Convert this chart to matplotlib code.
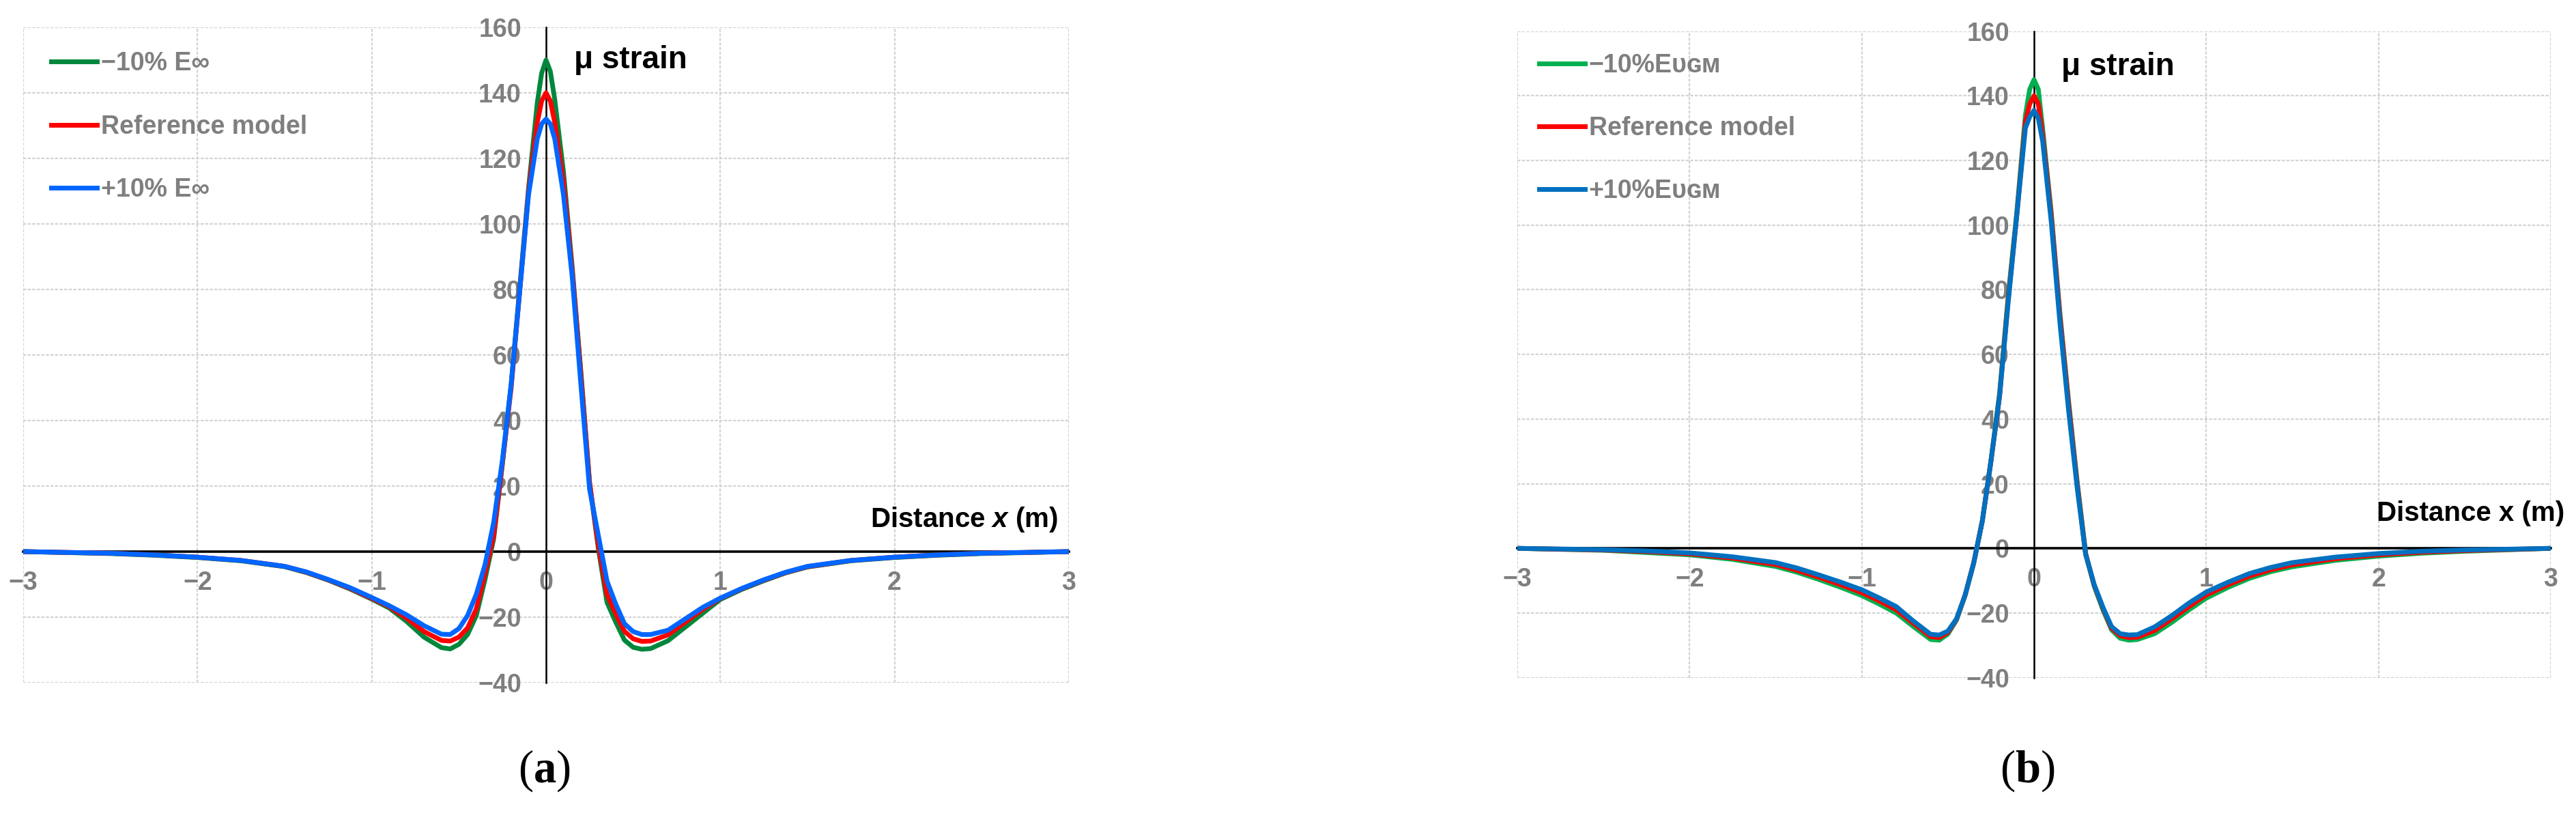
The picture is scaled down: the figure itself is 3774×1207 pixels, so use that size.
import matplotlib
matplotlib.use("Agg")
import matplotlib.pyplot as plt

plt.rcParams['font.family'] = ['Liberation Sans', 'DejaVu Sans']
plt.rcParams['mathtext.fontset'] = 'custom'
plt.rcParams['mathtext.it'] = 'Liberation Sans:italic:bold'
plt.rcParams['mathtext.rm'] = 'Liberation Sans:bold'
plt.rcParams['mathtext.bf'] = 'Liberation Serif:bold'

# distance along the pavement (m)
x = [-3, -2.5, -2.25, -2, -1.75, -1.5, -1.375, -1.25, -1.125, -1,
     -0.9, -0.8, -0.7, -0.6, -0.55, -0.5, -0.45, -0.4, -0.35, -0.3,
     -0.25, -0.2, -0.15, -0.1, -0.05, -0.025, 0, 0.025, 0.05, 0.1,
     0.15, 0.2, 0.25, 0.3, 0.35, 0.4, 0.45, 0.5, 0.55, 0.6,
     0.7, 0.8, 0.9, 1, 1.125, 1.25, 1.375, 1.5, 1.75, 2,
     2.25, 2.5, 3]

# (a) sensitivity to E-infinity, micro strain
a_minus = [0, -0.6, -1.1, -1.8, -2.8, -4.6, -6.4, -8.7, -11.4, -14.5,
           -17.2, -21.3, -26.1, -29.3, -29.7, -28.3, -25.3, -19.5, -8.5, 4,
           27, 51, 81, 111, 137, 146, 150, 146.5, 138, 116,
           87, 55, 21, 1, -15.5, -21.5, -27, -29.2, -29.8, -29.6,
           -27.2, -23, -18.8, -14.6, -11.5, -8.9, -6.5, -4.7, -2.8, -1.8,
           -1.1, -0.6, 0]
a_ref = [0, -0.5, -1.0, -1.7, -2.7, -4.5, -6.3, -8.6, -11.2, -14.3,
         -16.8, -20.3, -24.4, -27.1, -27.3, -26.1, -23.3, -17.5, -6.7, 5,
         27, 50, 80, 110, 131, 137.5, 140, 137.5, 131, 113,
         86, 54, 21, 2, -13, -19, -24.3, -26.6, -27.4, -27.3,
         -25.4, -21.5, -17.6, -14.3, -11.3, -8.7, -6.4, -4.6, -2.7, -1.7,
         -1.0, -0.5, 0]
a_plus = [0, -0.5, -1.0, -1.7, -2.7, -4.5, -6.2, -8.5, -11.0, -14.0,
          -16.5, -19.3, -22.6, -25.2, -25.3, -23.5, -19.5, -13, -4, 9,
          28, 51, 80, 109, 126, 130.5, 132, 130.5, 126, 109,
          84, 51, 19, 5, -9, -16, -22, -24.4, -25.3, -25.3,
          -24.0, -20.5, -17.0, -14.2, -11.2, -8.6, -6.3, -4.5, -2.7, -1.7,
          -1.0, -0.5, 0]

# (b) sensitivity to E_UGM, micro strain
b_minus = [0, -0.6, -1.3, -2.0, -3.4, -5.6, -7.4, -9.6, -12.0, -14.6,
           -17.2, -20, -24.2, -28.2, -28.4, -26.5, -22.2, -14.5, -4.5, 8.5,
           27, 48, 78, 104, 134, 142, 145, 142, 130, 104,
           73, 46, 21, -1.5, -11.8, -19, -25.2, -27.8, -28.4, -28.2,
           -26.4, -22.9, -19, -15.4, -12.1, -9.3, -7.2, -5.7, -3.7, -2.4,
           -1.5, -0.9, 0]
b_ref = [0, -0.5, -1.0, -1.7, -3.0, -5.0, -6.8, -8.9, -11.2, -13.7,
         -16.2, -19.0, -23.2, -27.3, -27.6, -26.0, -22.0, -14.5, -4.5, 8.5,
         27, 47, 77, 103, 132, 137.5, 140, 137.5, 128, 103,
         72, 45, 20, -1.8, -11.5, -18.5, -24.7, -27.0, -27.6, -27.5,
         -25.4, -21.8, -18.0, -14.4, -11.3, -8.6, -6.6, -5.1, -3.2, -2.0,
         -1.2, -0.7, 0]
b_plus = [0, -0.4, -0.8, -1.4, -2.6, -4.4, -6.1, -8.2, -10.4, -12.8,
          -15.3, -18.0, -22.5, -26.6, -26.8, -25.6, -21.8, -14.5, -4.5, 8.5,
          27, 47, 76, 103, 130, 133.5, 135.5, 133, 126, 101,
          70, 43, 19, -2.0, -11.3, -18.2, -24.2, -26.4, -26.8, -26.7,
          -24.3, -20.8, -16.9, -13.5, -10.5, -7.8, -5.9, -4.4, -2.7, -1.6,
          -0.9, -0.5, 0]

labels_a = ["\u221210% E\u221e", "Reference model", "+10% E\u221e"]
labels_b = ["\u221210%E\u1d1c\u0262\u1d0d", "Reference model", "+10%E\u1d1c\u0262\u1d0d"]
colors_a = ['#00873c', '#ff0000', '#0066ff']
colors_b = ['#00b050', '#ff0000', '#0070c0']
xticks = [-3, -2, -1, 0, 1, 2, 3]
yticks = [-40, -20, 0, 20, 40, 60, 80, 100, 120, 140, 160]
grey = '#7f7f7f'


def draw_panel(ax, series, labels, colors, xlabel, xlab_pos, mu_pos, leg_anchor):
    for ys, lab, c in zip(series, labels, colors):
        ax.plot(x, ys, color=c, lw=5, label=lab, zorder=3, solid_joinstyle='round')
    ax.set_xlim(-3, 3)
    ax.set_ylim(-40, 160)
    ax.set_xticks(xticks)
    ax.set_yticks(yticks)
    ax.grid(True, color='#d3d3d3', lw=1.6, ls=(0, (2, 1)))
    ax.set_axisbelow(True)
    for s in ['top', 'right']:
        ax.spines[s].set_visible(False)
    ax.spines['left'].set_position(('data', 0))
    ax.spines['bottom'].set_position(('data', 0))
    ax.spines['left'].set_linewidth(1.8)
    ax.spines['bottom'].set_linewidth(2.6)
    ax.spines['left'].set_zorder(2)
    ax.spines['bottom'].set_zorder(2)
    ax.tick_params(axis='both', length=0, labelsize=27, labelcolor=grey)
    ax.tick_params(axis='y', pad=26)
    ax.tick_params(axis='x', pad=20)
    plt.setp(ax.get_xticklabels() + ax.get_yticklabels(), fontweight='bold')

    ax.text(mu_pos[0], mu_pos[1], "\u03bc strain", fontsize=33, fontweight='bold',
            ha='left', va='center')
    ax.text(xlab_pos[0], xlab_pos[1], xlabel, fontsize=29, fontweight='bold',
            ha='right', va='center')

    leg = ax.legend(loc='upper left', bbox_to_anchor=leg_anchor, frameon=False,
                    borderaxespad=0, borderpad=0, handlelength=1.78, handletextpad=0.16,
                    labelspacing=1.5, prop={'size': 27, 'weight': 'bold'}, labelcolor=grey)
    for h in leg.get_lines():
        h.set_linewidth(5)


fig = plt.figure(figsize=(37.74, 12.07), dpi=100)
ax_a = fig.add_axes([0.00901, 0.1715, 0.4059, 0.7954])
ax_b = fig.add_axes([0.589, 0.1776, 0.4012, 0.7846])

draw_panel(ax_a, [a_minus, a_ref, a_plus], labels_a, colors_a,
           "Distance $x$ (m)", (2.94, 9.8), (0.16, 150), (0.0268, 0.963))
draw_panel(ax_b, [b_minus, b_ref, b_plus], labels_b, colors_b,
           "Distance x (m)", (3.08, 10.8), (0.16, 149), (0.0211, 0.966))

fig.text(0.2112, 0.065, r"($\mathbf{a}$)", family='Liberation Serif', fontsize=48,
         ha='center', va='center')
fig.text(0.787, 0.065, r"($\mathbf{b}$)", family='Liberation Serif', fontsize=48,
         ha='center', va='center')

fig.savefig('out.png', dpi=100)
